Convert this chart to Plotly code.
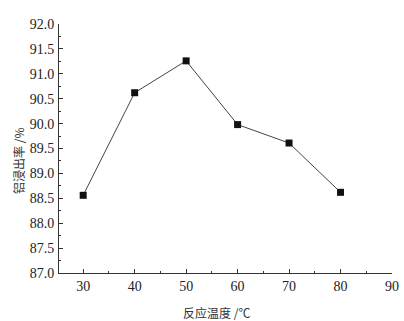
import plotly.graph_objects as go

temps = [30, 40, 50, 60, 70, 80]
leach_rate = [88.56, 90.62, 91.26, 89.98, 89.61, 88.62]
x_ticks = [30, 40, 50, 60, 70, 80, 90]
y_ticks = [87.0, 87.5, 88.0, 88.5, 89.0, 89.5, 90.0, 90.5, 91.0, 91.5, 92.0]

L, R, T, B = 59, 12, 24, 48
W, H = 404, 321
pw = W - L - R
ph = H - T - B

fig = go.Figure()
fig.add_trace(go.Scatter(
    x=temps, y=leach_rate, mode="lines+markers",
    line=dict(color="#444444", width=1),
    marker=dict(symbol="square", size=7, color="#111111"),
    showlegend=False,
))

tick_font = dict(family="Liberation Serif", size=14, color="#222222")
fig.update_layout(
    width=W, height=H,
    margin=dict(l=L, r=R, t=T, b=B, autoexpand=False),
    plot_bgcolor="white", paper_bgcolor="white",
    xaxis=dict(
        range=[25.3, 90], tickvals=x_ticks, ticktext=[str(v) for v in x_ticks],
        ticks="inside", ticklen=4, tickcolor="#333333", tickwidth=1,
        showline=True, linecolor="#333333", linewidth=1, showgrid=False, zeroline=False,
        minor=dict(ticks="inside", ticklen=2, dtick=5, tick0=0, tickcolor="#333333", showgrid=False),
        tickfont=tick_font, automargin=False,
    ),
    yaxis=dict(
        range=[87, 92], tickvals=y_ticks, ticktext=[f"{v:.1f}" for v in y_ticks],
        ticks="inside", ticklen=4, tickcolor="#333333", tickwidth=1,
        showline=True, linecolor="#333333", linewidth=1, showgrid=False, zeroline=False,
        minor=dict(ticks="inside", ticklen=2, dtick=0.25, tick0=87, tickcolor="#333333", showgrid=False),
        tickfont=tick_font, ticklabelstandoff=1, automargin=False,
    ),
    annotations=[
        dict(text="反应温度 /℃", x=(216 - L) / pw, y=(H - B - 312) / ph, xref="paper", yref="paper",
             xanchor="center", yanchor="middle",
             showarrow=False, font=dict(family="Noto Sans CJK SC", size=12, color="#333333")),
        dict(text="铝浸出率 /%", x=(18 - L) / pw, y=(H - B - 161) / ph, xref="paper", yref="paper",
             xanchor="center", yanchor="middle",
             showarrow=False, textangle=-90,
             font=dict(family="Noto Sans CJK SC", size=12, color="#333333")),
    ],
)

fig.write_html("out.html", config={"displayModeBar": False},
               post_script="document.body.style.margin='0';")
